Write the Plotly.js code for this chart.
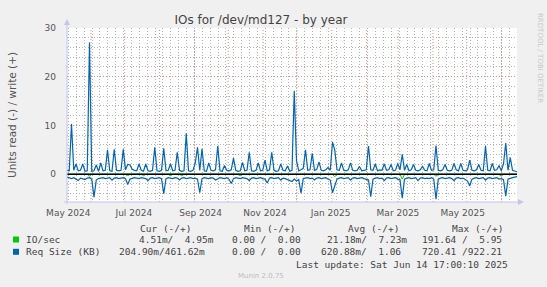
<!DOCTYPE html>
<html><head><meta charset="utf-8">
<script src="https://cdn.plot.ly/plotly-3.0.1.min.js"></script>
<style>html,body{margin:0;padding:0;background:#f0f0f0;overflow:hidden;}</style>
</head><body><div id="chart" style="width:547px;height:287px;"></div>
<script>
// ---- time base (one point every 2 days, May 10 2024 17:00 -> Jun 14 2025 17:00)
const startMs = Date.UTC(2024, 4, 10, 17, 0, 0);
const stepDays = 2;

// ---- Req Size (KB): write (+)
const reqWrite = [
 0.8,0.7,10.3,0.8,2.1,0.7,0.8,2.1,0.6,0.7, 27.0,0.6,0.7,1.9,0.6,2.3,0.7,0.8,5.0,0.7,
 0.6,5.1,0.8,0.7,0.8,5.1,0.9,2.0,1.9,1.0, 0.8,0.7,2.1,0.8,0.6,2.1,0.7,0.6,0.8,5.5,
 0.7,0.6,0.8,5.3,0.7,0.8,2.1,0.7,0.8,4.5, 0.8,0.6,0.7,8.4,0.7,0.6,0.8,2.3,5.5,0.8,
 5.2,0.7,0.6,2.3,0.8,0.7,0.9,5.8,0.7,0.6, 1.8,0.8,0.7,0.9,3.3,0.8,0.6,0.7,2.4,0.7,
 0.8,4.5,0.7,0.6,0.8,2.3,0.7,0.8,2.9,0.7, 0.9,4.5,0.8,0.6,0.7,2.1,0.8,0.7,1.7,0.6,
 0.8,17.1,2.8,0.7,0.9,1.2,5.0,0.8,0.9,4.3, 0.8,1.0,2.5,0.8,0.7,0.9,1.4,0.8,6.6,5.0,
 0.9,0.8,2.3,0.8,0.7,0.9,2.3,0.8,0.7,0.8, 1.6,0.7,0.8,0.9,5.8,0.9,0.8,2.1,0.7,0.9,
 0.8,2.1,0.8,0.9,2.0,0.7,0.8,2.2,0.9,4.1, 0.8,2.0,0.7,0.9,2.0,0.8,0.7,0.9,1.6,0.8,
 0.7,2.2,0.8,0.9,5.9,0.8,0.7,0.9,2.0,0.8, 0.7,0.8,2.2,0.9,0.7,2.2,0.8,0.7,0.9,2.9,
 0.8,0.7,0.9,2.0,0.8,0.7,5.8,0.8,0.7,2.2, 0.8,0.9,1.8,0.7,2.1,6.4,0.8,3.4,0.8,0.6,
 0.5
];
// ---- Req Size (KB): read (-)
const reqRead = [
 -0.6,-0.8,-0.9,-0.7,-1.0,-1.3,-0.8,-0.9,-1.1,-0.8, -0.7,-1.0,-4.7,-1.2,-0.9,-0.8,-0.7,-0.9,-0.8,-0.7,
 -1.2,-0.8,-0.7,-0.9,-0.8,-0.7,-0.9,-2.1,-1.0,-0.8, -0.7,-0.8,-0.9,-0.7,-0.8,-0.9,-1.3,-0.8,-0.7,-0.9,
 -0.8,-0.7,-0.9,-4.0,-0.9,-0.7,-0.8,-0.9,-0.7,-0.8, -1.2,-0.8,-0.7,-0.9,-0.8,-0.7,-0.9,-0.8,-1.0,-3.8,
 -0.9,-0.7,-0.8,-0.9,-0.7,-0.8,-1.2,-0.9,-0.7,-0.8, -0.9,-0.7,-1.0,-1.9,-0.9,-0.7,-0.8,-0.9,-0.7,-0.8,
 -0.9,-1.3,-0.8,-0.7,-0.9,-0.8,-0.7,-0.9,-1.0,-1.8, -0.8,-0.7,-0.9,-0.8,-0.7,-1.2,-0.8,-0.9,-1.1,-1.3,
 -1.5,-1.0,-1.4,-1.1,-3.9,-0.9,-0.8,-0.7,-0.9,-0.8, -1.2,-0.8,-0.7,-0.9,-0.8,-0.7,-1.0,-1.2,-3.8,-2.2,
 -1.0,-0.8,-0.7,-0.9,-0.8,-0.7,-1.2,-0.8,-0.7,-0.9, -0.8,-0.7,-0.9,-1.0,-1.2,-4.6,-1.0,-0.8,-0.7,-0.9,
 -0.8,-1.3,-0.8,-0.7,-0.9,-0.8,-0.7,-1.0,-1.1,-4.9, -1.0,-0.8,-0.7,-0.9,-0.8,-0.7,-1.3,-0.8,-0.7,-0.9,
 -0.8,-0.9,-0.7,-1.0,-5.1,-1.0,-0.8,-0.7,-0.9,-0.8, -0.7,-0.9,-1.3,-0.8,-0.7,-0.9,-0.8,-1.1,-1.4,-2.4,
 -1.0,-0.8,-0.7,-0.9,-0.8,-0.7,-1.2,-0.8,-0.7,-0.9, -0.8,-0.7,-1.0,-0.9,-1.1,-4.5,-1.0,-0.8,-0.7,-0.6,
 -0.5
];
// ---- IO/sec: write (+) and read (-)
const ioWrite = [
 0.01,0.01,0.02,0.01,0.01,0.01,0.01,0.01,0.01,0.01, 0.03,0.01,0.01,0.01,0.01,0.01,0.01,0.01,0.02,0.01,
 0.01,0.02,0.01,0.01,0.01,0.02,0.01,0.01,0.01,0.01, 0.01,0.01,0.01,0.01,0.01,0.01,0.01,0.01,0.01,0.02,
 0.01,0.01,0.01,0.02,0.01,0.01,0.01,0.01,0.01,0.01, 0.01,0.01,0.01,0.02,0.01,0.01,0.01,0.01,0.02,0.01,
 0.02,0.01,0.01,0.01,0.01,0.01,0.01,0.02,0.01,0.01, 0.01,0.01,0.01,0.01,0.01,0.01,0.01,0.01,0.01,0.01,
 0.01,0.02,0.01,0.01,0.01,0.01,0.01,0.01,0.01,0.01, 0.01,0.02,0.01,0.01,0.01,0.01,0.01,0.01,0.01,0.01,
 0.01,0.03,0.01,0.01,0.01,0.01,0.02,0.01,0.01,0.02, 0.01,0.01,0.01,0.01,0.01,0.01,0.01,0.01,0.02,0.02,
 0.01,0.01,0.01,0.01,0.01,0.01,0.01,0.01,0.01,0.01, 0.01,0.01,0.01,0.01,0.02,0.01,0.01,0.01,0.01,0.01,
 0.01,0.01,0.01,0.01,0.01,0.01,0.01,0.01,0.01,0.02, 0.01,0.01,0.01,0.01,0.01,0.01,0.01,0.01,0.01,0.01,
 0.01,0.01,0.01,0.01,0.02,0.01,0.01,0.01,0.01,0.01, 0.01,0.01,0.01,0.01,0.01,0.01,0.01,0.01,0.01,0.01,
 0.01,0.01,0.01,0.01,0.01,0.01,0.02,0.01,0.01,0.01, 0.01,0.01,0.01,0.01,0.01,0.02,0.01,0.01,0.01,0.01,
 0.01
];
const ioRead = [
 -0.05,-0.05,-0.05,-0.05,-0.05,-0.05,-0.05,-0.05,-0.05,-0.05, -0.40,-0.05,-0.05,-0.05,-0.05,-0.05,-0.05,-0.05,-0.05,-0.05,
 -0.05,-0.05,-0.05,-0.05,-0.05,-0.05,-0.05,-0.30,-0.05,-0.05, -0.05,-0.05,-0.05,-0.05,-0.30,-0.05,-0.05,-0.05,-0.05,-0.05,
 -0.05,-0.05,-0.05,-0.05,-0.05,-0.05,-0.30,-0.05,-0.05,-0.05, -0.05,-0.30,-0.05,-0.05,-0.05,-0.05,-0.05,-0.05,-0.05,-0.05,
 -0.05,-0.05,-0.05,-0.05,-0.05,-0.05,-0.05,-0.05,-0.05,-0.05, -0.05,-0.05,-0.05,-0.05,-0.05,-0.05,-0.05,-0.30,-0.05,-0.05,
 -0.05,-0.05,-0.05,-0.05,-0.05,-0.05,-0.05,-0.05,-0.05,-0.05, -0.05,-0.05,-0.05,-0.05,-0.05,-0.05,-0.05,-0.05,-0.05,-0.05,
 -0.05,-0.05,-0.05,-0.05,-0.05,-0.05,-0.05,-0.05,-0.05,-0.05, -0.05,-0.05,-0.05,-0.05,-0.05,-0.05,-0.05,-0.05,-0.05,-0.50,
 -0.05,-0.05,-0.05,-0.05,-0.05,-0.05,-0.05,-0.05,-0.05,-0.05, -0.05,-0.05,-0.05,-0.05,-0.05,-0.05,-0.05,-0.05,-0.05,-0.05,
 -0.05,-0.05,-0.05,-0.05,-0.05,-0.05,-0.05,-0.05,-0.05,-1.00, -0.05,-0.05,-0.05,-0.05,-0.05,-0.05,-0.05,-0.05,-0.05,-0.05,
 -0.05,-0.05,-0.05,-0.05,-0.40,-0.05,-0.05,-0.05,-0.05,-0.05, -0.05,-0.05,-0.05,-0.05,-0.05,-0.05,-0.05,-0.05,-0.05,-0.05,
 -0.05,-0.05,-0.05,-0.05,-0.05,-0.05,-0.05,-0.05,-0.05,-0.05, -0.05,-0.05,-0.05,-0.40,-0.05,-0.05,-0.05,-0.05,-0.05,-0.05,
 -0.05
];
const hruleValue = 0;

// ---- axis ticks
const labelDates = ['2024-05-11 21:00','2024-07-09 02:00','2024-09-06 10:00','2024-11-02 17:00',
                    '2024-12-31 02:00','2025-02-28 22:00','2025-04-27 12:00'];
const labelText  = ['May 2024','Jul 2024','Sep 2024','Nov 2024','Jan 2025','Mar 2025','May 2025'];
const monthStarts = ['2024-06-01','2024-07-01','2024-08-01','2024-09-01','2024-10-01','2024-11-01',
                     '2024-12-01','2025-01-01','2025-02-01','2025-03-01','2025-04-01','2025-05-01','2025-06-01'];
const weekTick0 = '2024-05-12';
const yMajorTicks = [0, 10, 20, 30];
const yMinorTicks = [-4, -2, 2, 4, 6, 8, 12, 14, 16, 18, 22, 24, 26, 28];
const yRange = [-5.7, 30];

// ---- legend table
const legendNames = ['IO/sec', 'Req Size (KB)'];
const legendColors = ['#00cc00', '#0066b3'];
const legendHeader = ['Cur (-/+)', 'Min (-/+)', 'Avg (-/+)', 'Max (-/+)'];
const legendCur = ['4.51m/  4.95m', '204.90m/461.62m'];
const legendMin = ['0.00 /  0.00', '0.00 /  0.00'];
const legendAvg = ['21.18m/  7.23m', '620.88m/  1.06'];
const legendMax = ['191.64 /  5.95', '720.41 /922.21'];
const lastUpdate = 'Last update: Sat Jun 14 17:00:10 2025';

const fmt = ms => new Date(ms).toISOString().slice(0, 19).replace('T', ' ');
const dates = reqWrite.map((_, i) => fmt(startMs + i * stepDays * 86400000));
const xRange = [dates[0], dates[dates.length - 1]];

const L = 67, R = 517, T = 28, B = 202;
const px2x = p => (p - L) / (R - L);
const px2y = p => (B - p) / (B - T);
const nb = s => s.replace(/ /g, '\u00a0');

const lineCol = '#c4c4ec';
const gridGray = '#b4b4b4';
const gridRed = '#e48c8c';
const dash = '1px,2px';

const traces = [
  {x: dates, y: ioRead, type: 'scatter', mode: 'lines', line: {color: legendColors[0], width: 1}, hoverinfo: 'skip'},
  {x: dates, y: ioWrite, type: 'scatter', mode: 'lines', line: {color: legendColors[0], width: 1}, hoverinfo: 'skip'},
  {x: dates, y: reqRead, type: 'scatter', mode: 'lines', line: {color: legendColors[1], width: 1.2}, hoverinfo: 'skip'},
  {x: dates, y: reqWrite, type: 'scatter', mode: 'lines', line: {color: legendColors[1], width: 1.2}, hoverinfo: 'skip'},
  {x: xRange, y: [hruleValue, hruleValue], type: 'scatter', mode: 'lines', line: {color: '#000000', width: 1.6}, hoverinfo: 'skip'}
];

const textFont = {family: 'DejaVu Sans', size: 9, color: '#555555'};
const monoFont = {family: 'DejaVu Sans Mono', size: 9.5, color: '#444444'};

const annotations = [];
const A = (text, x, y, xanchor, font, extra) => annotations.push(Object.assign({
  text: nb(text), x: px2x(x), y: px2y(y), xref: 'paper', yref: 'paper',
  xanchor: xanchor, yanchor: 'middle', showarrow: false, font: font, borderpad: 0
}, extra || {}));

const headerX = [165.3, 269.7, 373, 477];
legendHeader.forEach((h, i) => A(h, headerX[i], 228, 'center', monoFont));
const rowY = [239.5, 251.8];
const curRight = [215, 205.7], minRight = [301.7, 301.7], avgRight = [408.3, 401.7], maxRight = [502.7, 502.7];
legendNames.forEach((n, r) => {
  A(n, 25, rowY[r], 'left', monoFont);
  A(legendCur[r], curRight[r], rowY[r], 'right', monoFont);
  A(legendMin[r], minRight[r], rowY[r], 'right', monoFont);
  A(legendAvg[r], avgRight[r], rowY[r], 'right', monoFont);
  A(legendMax[r], maxRight[r], rowY[r], 'right', monoFont);
});
A(lastUpdate, 509, 264, 'right', monoFont);
A('Munin 2.0.75', 261, 276, 'center', {family: 'DejaVu Sans', size: 7, color: '#bdbdbd'});
A('RRDTOOL / TOBI OETIKER', 540, 58, 'center', {family: 'DejaVu Sans', size: 7, color: '#c8c8c8'}, {textangle: 90});

// monthly (major) vertical grid lines, drawn below the traces
const shapes = monthStarts.map(d => ({type: 'line', layer: 'below', xref: 'x', yref: 'paper', x0: d, x1: d, y0: 0, y1: 1,
  line: {color: gridRed, width: 1, dash: dash}}));
shapes.push(
  {type: 'line', xref: 'paper', yref: 'paper', x0: px2x(L), x1: px2x(L), y0: px2y(204), y1: px2y(23), line: {color: lineCol, width: 1}},
  {type: 'line', xref: 'paper', yref: 'paper', x0: px2x(64), x1: px2x(519), y0: px2y(B), y1: px2y(B), line: {color: lineCol, width: 1}},
  {type: 'path', xref: 'paper', yref: 'paper', path: `M ${px2x(64)},${px2y(25)} L ${px2x(70)},${px2y(25)} L ${px2x(67)},${px2y(19)} Z`, fillcolor: lineCol, line: {width: 0}},
  {type: 'path', xref: 'paper', yref: 'paper', path: `M ${px2x(518)},${px2y(199)} L ${px2x(518)},${px2y(205)} L ${px2x(524)},${px2y(202)} Z`, fillcolor: lineCol, line: {width: 0}}
);
legendColors.forEach((c, r) => shapes.push({type: 'rect', xref: 'paper', yref: 'paper',
  x0: px2x(13), x1: px2x(19), y0: px2y(rowY[r] - 3), y1: px2y(rowY[r] + 3), fillcolor: c, line: {width: 0}}));

const layout = {
  width: 547, height: 287,
  margin: {l: L, r: 547 - R, t: T, b: 287 - B, pad: 0},
  paper_bgcolor: '#f0f0f0', plot_bgcolor: '#ffffff',
  showlegend: false,
  title: {text: 'IOs for /dev/md127 - by year', font: {family: 'DejaVu Sans', size: 12, color: '#444444'},
          x: 261 / 547, xanchor: 'center', xref: 'container', y: 1 - 20 / 287, yanchor: 'middle', yref: 'container'},
  // x axis: bimonthly labels, weekly gray grid as minor
  xaxis: {type: 'date', range: xRange, tickmode: 'array', tickvals: labelDates, ticktext: labelText,
          showgrid: false, zeroline: false, showline: false, ticks: '', ticklabelstandoff: 4, tickfont: textFont,
          minor: {tickmode: 'linear', tick0: weekTick0, dtick: 7 * 86400000, showgrid: true, gridcolor: gridGray,
                  griddash: dash, gridwidth: 1, ticks: ''}},
  yaxis: {range: yRange, tickmode: 'array', tickvals: yMajorTicks, showgrid: true, gridcolor: gridRed, griddash: dash,
          gridwidth: 1, zeroline: false, showline: false, ticks: '', ticklabelstandoff: 10, tickfont: textFont,
          minor: {tickmode: 'array', tickvals: yMinorTicks, showgrid: true, gridcolor: gridGray, griddash: dash, gridwidth: 1, ticks: ''},
          title: {text: 'Units read (-) / write (+)', font: {family: 'DejaVu Sans', size: 10.5, color: '#555555'}, standoff: 25}},
  annotations: annotations,
  shapes: shapes
};

Plotly.newPlot('chart', traces, layout, {staticPlot: true, displayModeBar: false});
</script>
</body></html>
